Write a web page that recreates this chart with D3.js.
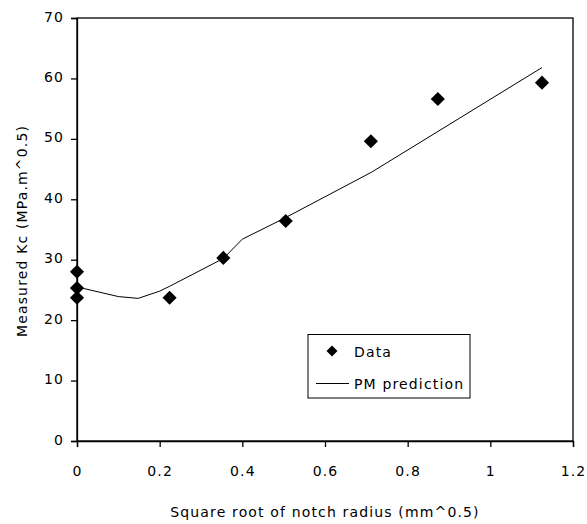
<html>
<script src="https://d3js.org/d3.v7.min.js"></script>
<style>
  body { margin: 0; background: #fff; }
  text { font-family: "DejaVu Sans", Verdana, sans-serif; fill: #000; letter-spacing: 1.15px; }
</style>
<body>
<svg width="587" height="524"></svg>
<script>
// measured points: sqrt(notch radius) vs Kc
const dataX = [0, 0, 0, 0.224, 0.354, 0.505, 0.711, 0.873, 1.125];
const dataY = [28.0, 25.3, 23.7, 23.7, 30.3, 36.4, 49.6, 56.6, 59.3];

// PM prediction curve
const predX = [0, 0.1, 0.148, 0.2, 0.224, 0.354, 0.4, 0.5, 0.713, 1.125];
const predY = [25.5, 23.9, 23.6, 24.8, 25.6, 30.2, 33.4, 36.8, 44.5, 61.8];

const xTicks = [0, 0.2, 0.4, 0.6, 0.8, 1, 1.2];
const yTicks = [0, 10, 20, 30, 40, 50, 60, 70];

var plotLeft = 77, plotTop = 18, plotRight = 573, plotBottom = 441;

var svg = d3.select("svg");

var x = d3.scaleLinear().domain([0, 1.2]).range([plotLeft, plotRight]);
var y = d3.scaleLinear().domain([0, 70]).range([plotBottom, plotTop]);

// frame
svg.append("rect")
  .attr("x", plotLeft).attr("y", plotTop)
  .attr("width", plotRight - plotLeft).attr("height", plotBottom - plotTop)
  .attr("fill", "none").attr("stroke", "#000").attr("stroke-width", 1.3);

// axes
var xAxis = svg.append("g")
  .attr("transform", "translate(0," + plotBottom + ")")
  .call(d3.axisBottom(x).tickValues(xTicks).tickSize(6).tickPadding(19)
        .tickFormat(d3.format("~g")));
var yAxis = svg.append("g")
  .attr("transform", "translate(" + plotLeft + ",0)")
  .call(d3.axisLeft(y).tickValues(yTicks).tickSize(6).tickPadding(7));

[xAxis, yAxis].forEach(function(g) {
  g.select(".domain").attr("stroke-width", 1.3);
  g.selectAll(".tick line").attr("stroke-width", 1.3);
  g.selectAll("text").style("font-size", "14px").style("font-family", '"DejaVu Sans", Verdana, sans-serif');
});
yAxis.selectAll("text").attr("dy", "0.22em");

// prediction line
var line = d3.line().x(function(d) { return x(d[0]); }).y(function(d) { return y(d[1]); });
svg.append("path")
  .datum(predX.map(function(v, i) { return [v, predY[i]]; }))
  .attr("d", line)
  .attr("fill", "none").attr("stroke", "#000").attr("stroke-width", 1);

// data markers
var diamond = d3.symbol().type(d3.symbolSquare).size(100);
svg.append("g").selectAll("path")
  .data(dataX.map(function(v, i) { return [v, dataY[i]]; }))
  .enter().append("path")
  .attr("d", diamond)
  .attr("fill", "#000")
  .attr("transform", function(d) { return "translate(" + x(d[0]) + "," + y(d[1]) + ") rotate(45)"; });

// axis titles
svg.append("text")
  .text("Square root of notch radius (mm^0.5)")
  .attr("x", 325).attr("y", 517)
  .attr("text-anchor", "middle")
  .style("font-size", "14px");

svg.append("text")
  .text("Measured Kc (MPa.m^0.5)")
  .attr("transform", "translate(27,231) rotate(-90)")
  .attr("text-anchor", "middle")
  .style("font-size", "14px");

// legend
var leg = svg.append("g");
leg.append("rect")
  .attr("x", 308).attr("y", 334.5).attr("width", 162).attr("height", 63.5)
  .attr("fill", "#fff").attr("stroke", "#000").attr("stroke-width", 1);
leg.append("path")
  .attr("d", d3.symbol().type(d3.symbolSquare).size(60))
  .attr("transform", "translate(332,351) rotate(45)")
  .attr("fill", "#000");
leg.append("line")
  .attr("x1", 316).attr("x2", 349).attr("y1", 383.5).attr("y2", 383.5)
  .attr("stroke", "#000").attr("stroke-width", 1);
leg.append("text").text("Data").attr("x", 354).attr("y", 357).style("font-size", "14px");
leg.append("text").text("PM prediction").attr("x", 354).attr("y", 389).style("font-size", "14px");
</script>
</body>
</html>
